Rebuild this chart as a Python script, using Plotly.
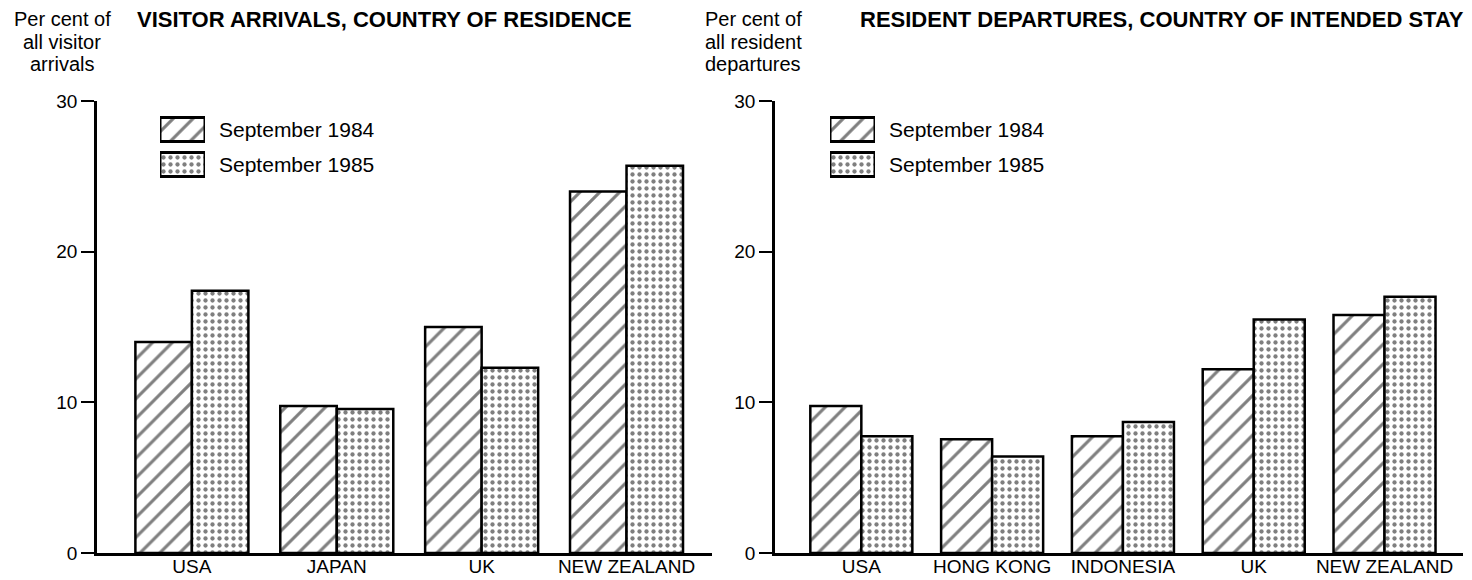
import plotly.graph_objects as go

FONT = "Liberation Sans, Arial, sans-serif"

arr_categories = ["USA", "JAPAN", "UK", "NEW ZEALAND"]
arr_1984 = [14.0, 9.75, 15.0, 24.0]
arr_1985 = [17.4, 9.55, 12.3, 25.7]

dep_categories = ["USA", "HONG KONG", "INDONESIA", "UK", "NEW ZEALAND"]
dep_1984 = [9.75, 7.55, 7.75, 12.2, 15.8]
dep_1985 = [7.75, 6.4, 8.7, 15.5, 17.0]

series_names = ["September 1984", "September 1985"]
y_ticks = [0, 10, 20, 30]
left_ytitle = ["Per cent of", "all visitor", "arrivals"]
right_ytitle = ["Per cent of", "all resident", "departures"]

# page body has an 8px margin: build the figure in page coordinates minus 8
OFF = 8
W, H = 1472 - OFF, 580 - OFF


def px(x):
    return (x - OFF) / W


def py(y):
    return 1 - (y - OFF) / H


hatch = dict(shape="/", fgcolor="black", bgcolor="white", size=14, solidity=0.22)
dots = dict(shape=".", fgcolor="black", bgcolor="white", size=7, solidity=0.3)
patterns = [hatch, dots]
line = dict(color="black", width=2.5)

fig = go.Figure()

panels = [
    (arr_categories, [arr_1984, arr_1985], "x", "y"),
    (dep_categories, [dep_1984, dep_1985], "x2", "y2"),
]
for cats, series, xa, ya in panels:
    for name, vals, pat in zip(series_names, series, patterns):
        fig.add_trace(go.Bar(x=cats, y=vals, name=name, showlegend=False,
                             marker=dict(color="white", pattern=pat, line=line),
                             xaxis=xa, yaxis=ya))

# legend swatches (one small axis per panel)
legend_specs = [
    ("x3", "y3", [160, 205], [112, 182]),
    ("x4", "y4", [830, 875], [112, 182]),
]
for xa, ya, _, _ in legend_specs:
    for i, (name, pat) in enumerate(zip(series_names, patterns)):
        fig.add_trace(go.Bar(x=[1], y=[1 - i], orientation="h", width=0.68,
                             offsetgroup="swatch", showlegend=False, hoverinfo="skip",
                             marker=dict(color="white", pattern=pat,
                                         line=dict(color="black", width=3)),
                             xaxis=xa, yaxis=ya))

ydom = [py(553), py(101)]
axis_common = dict(showgrid=False, zeroline=False, showline=True, linecolor="black",
                   linewidth=2.5)
hidden = dict(visible=False, showgrid=False, zeroline=False, fixedrange=True)
xtick_style = dict(ticks="", tickfont=dict(size=19), ticklabelstandoff=-6)
ytick_style = dict(ticks="outside", ticklen=13, tickwidth=2, tickcolor="black",
                   tickfont=dict(size=19))
layout_axes = dict(
    xaxis=dict(domain=[px(97), px(712)], range=[-0.655, 3.59], anchor="y",
               **xtick_style, **axis_common),
    yaxis=dict(domain=ydom, range=[0, 30], anchor="x", tickvals=y_ticks,
               **ytick_style, **axis_common),
    xaxis2=dict(domain=[px(775), px(1463)], range=[-0.66, 4.6], anchor="y2",
                **xtick_style, **axis_common),
    yaxis2=dict(domain=ydom, range=[0, 30], anchor="x2", tickvals=y_ticks,
                **ytick_style, **axis_common),
)
for xa, ya, xd, yd in legend_specs:
    xk = "xaxis" + xa[1:]
    yk = "yaxis" + ya[1:]
    layout_axes[xk] = dict(domain=[px(xd[0]), px(xd[1])], range=[0, 1], anchor=ya, **hidden)
    layout_axes[yk] = dict(domain=[py(yd[1]), py(yd[0])], range=[-0.5, 1.5],
                           anchor=xa, **hidden)

fig.update_layout(
    width=W, height=H,
    margin=dict(l=0, r=0, t=0, b=0, autoexpand=False),
    paper_bgcolor="white", plot_bgcolor="rgba(0,0,0,0)",
    barmode="group", bargap=0.22, bargroupgap=0,
    font=dict(family=FONT, color="black", size=15),
    showlegend=False,
    **layout_axes,
)

annotations = [
    dict(text="<b>VISITOR ARRIVALS, COUNTRY OF RESIDENCE</b>", x=px(135), y=py(20),
         xanchor="left", yanchor="middle", font=dict(size=22)),
    dict(text="<b>RESIDENT DEPARTURES, COUNTRY OF INTENDED STAY</b>", x=px(1466), y=py(20),
         xanchor="right", yanchor="middle", font=dict(size=22)),
]
for cx, lines in [(62, left_ytitle), (753, right_ytitle)]:
    for yc, txt in zip([19, 42, 64], lines):
        annotations.append(dict(text=txt, x=px(cx), y=py(yc), xanchor="center",
                                yanchor="middle", font=dict(size=20)))
for (xa, ya, xd, yd) in legend_specs:
    slot = (yd[1] - yd[0]) / 2
    for i, name in enumerate(series_names):
        annotations.append(dict(text=name, x=px(xd[1] + 12),
                                y=py(yd[0] + slot * (i + 0.5)),
                                xanchor="left", yanchor="middle", font=dict(size=21)))
for a in annotations:
    a.update(xref="paper", yref="paper", showarrow=False)
fig.update_layout(annotations=annotations)

fig.write_html("out.html")
